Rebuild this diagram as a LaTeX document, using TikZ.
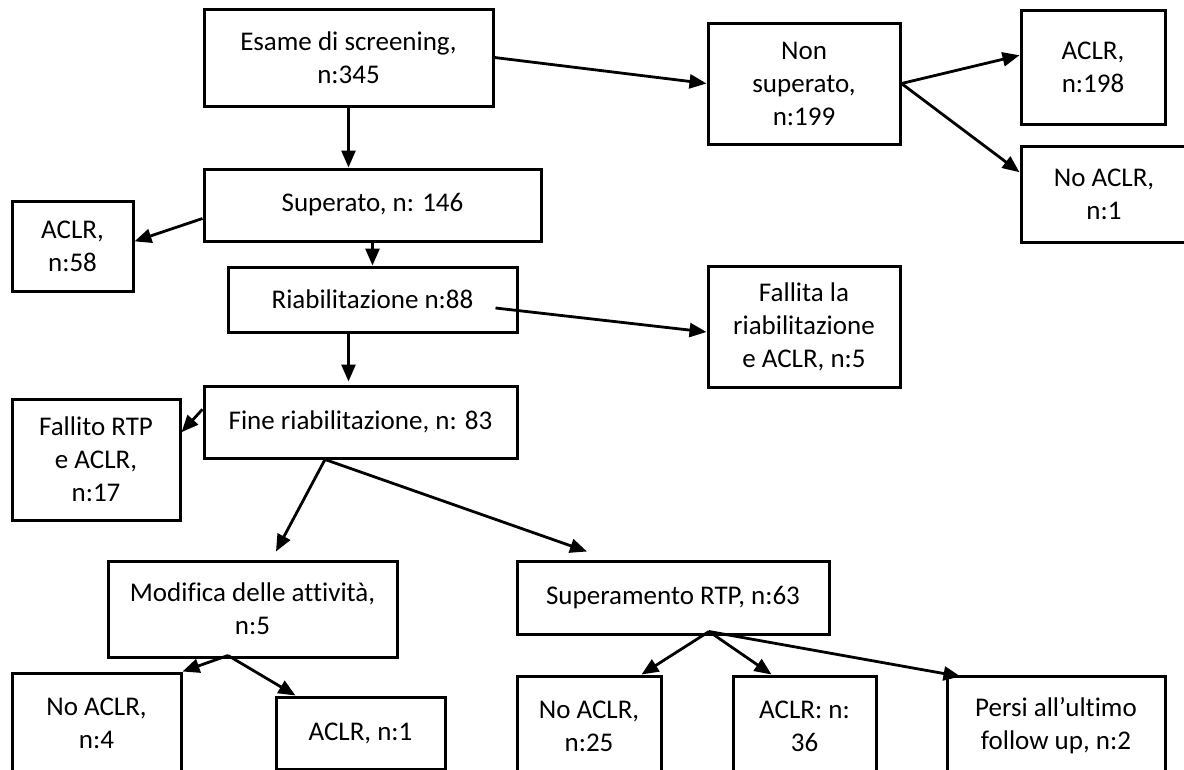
\documentclass[tikz,border=0pt]{standalone}
\usepackage{fontspec}
\setmainfont[Ligatures={NoCommon}]{Carlito}
\usepackage{tikz}
\usetikzlibrary{arrows.meta,calc}
\tikzset{
    stagebox/.style={draw, line width=3pt, align=center, inner sep=2pt,
        font=\fontsize{27}{33}\selectfont},
    flow/.style={-{Triangle[length=17pt,width=14pt]}, line width=2.8pt}
}

\begin{document}
\begin{tikzpicture}[x=1pt,y=-1pt]
    \useasboundingbox (0,0) rectangle (1184,769);
    \clip (0,0) rectangle (1184,769);

    \node[stagebox, minimum width=289, minimum height=97] (esame) at (348.5,57.5) {Esame di screening,\\n:345};
    \node[stagebox, minimum width=192, minimum height=121] (nonsup) at (804,83.5) {Non\\superato,\\n:199};
    \node[stagebox, minimum width=144, minimum height=114] (aclrA) at (1093,67) {ACLR,\\n:198};
    \node[stagebox, minimum width=166, minimum height=96] (noaclrA) at (1104,194) {No ACLR,\\n:1};
    \node[stagebox, minimum width=337, minimum height=72] (superato) at (372.5,205) {Superato, n: 146};
    \node[stagebox, minimum width=121, minimum height=90] (aclrB) at (72.5,246) {ACLR,\\n:58};
    \node[stagebox, minimum width=289, minimum height=65] (riab) at (372.5,299.5) {Riabilitazione n:88};
    \node[stagebox, minimum width=192, minimum height=121] (fallita) at (804,326.5) {Fallita la\\riabilitazione\\e ACLR, n:5};
    \node[stagebox, minimum width=313, minimum height=72] (fine) at (360.5,422) {Fine riabilitazione, n: 83};
    \node[stagebox, minimum width=168, minimum height=121] (fallito) at (96,459.5) {Fallito RTP\\e ACLR,\\n:17};
    \node[stagebox, minimum width=289, minimum height=96] (modifica) at (252.5,609) {Modifica delle attività,\\n:5};
    \node[stagebox, minimum width=312, minimum height=73] (superam) at (673,597.5) {Superamento RTP, n:63};

    % bottom row, cut by the page edge
    \node[stagebox, minimum width=169, minimum height=100] (noaclrC) at (96.5,723) {No ACLR,\\n:4};
    \node[stagebox, minimum width=169, minimum height=72] (aclrC) at (360.5,733) {ACLR, n:1};
    \node[stagebox, minimum width=144, minimum height=100] (noaclrD) at (589,726) {No ACLR,\\n:25};
    \node[stagebox, minimum width=143, minimum height=100] (aclrD) at (804.5,726) {ACLR: n:\\36};
    \node[stagebox, minimum width=218, minimum height=100] (persi) at (1056,726) {Persi all’ultimo\\follow up, n:2};

    \coordinate (finefork) at ($(fine.south)+(-35.5,0)$);
    \coordinate (modfork) at ($(modifica.south)+(-24.5,-3)$);
    \coordinate (supfork) at ($(superam.south)+(36,-4)$);

    \draw[flow] (esame.south) -- (esame.south |- superato.north);
    \draw[flow] (esame.east) -- (nonsup.west);
    \draw[flow] (nonsup.east) -- ($(aclrA.north west)!0.4!(aclrA.south west)$);
    \draw[flow] (nonsup.east) -- ($(noaclrA.north west)!0.28!(noaclrA.south west)$);
    \draw[flow] ($(superato.north west)!0.68!(superato.south west)$) -- ($(aclrB.north east)!0.45!(aclrB.south east)$);
    \draw[flow] (superato.south) -- (riab.north);
    \draw[flow] (riab.south -| esame.south) -- ($(fine.north -| esame.south)+(0,-3)$);
    \draw[flow] ($(riab.east)+(-23,8.5)$) -- ($(fallita.west)+(0,5.5)$);
    \draw[flow] ($(fine.north west)!0.33!(fine.south west)$) -- ($(fallito.north east)!0.28!(fallito.south east)$);
    \draw[flow] (finefork) -- ($(modifica.north)+(23.5,-8)$);
    \draw[flow] (finefork) -- ($(superam.north)+(-86,-8)$);
    \draw[flow] (modfork) -- (noaclrC.north east);
    \draw[flow] (modfork) -- ($(aclrC.north west)+(21,0)$);
    \draw[flow] (supfork) -- ($(noaclrD.north east)+(-21,0)$);
    \draw[flow] (supfork) -- ($(aclrD.north west)+(40,0)$);
    \draw[flow] (supfork) -- ($(persi.north west)+(15,2)$);
\end{tikzpicture}
\end{document}
